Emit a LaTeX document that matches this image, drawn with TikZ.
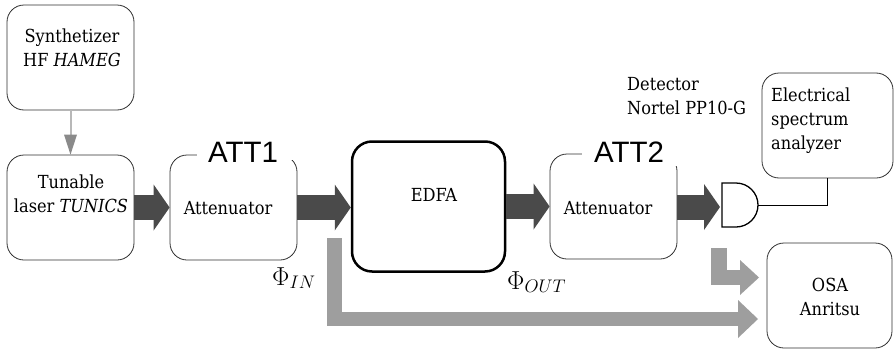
\RequirePackage{fix-cm}
\documentclass[tikz,border=0pt]{standalone}
\usepackage{fontspec}
\setmainfont{DejaVu Serif Condensed}
\newfontfamily\attfont{Liberation Sans}
\usetikzlibrary{arrows.meta,calc}
\definecolor{darkar}{HTML}{4A4A4A}
\definecolor{lightar}{HTML}{9E9E9E}
\definecolor{thinline}{HTML}{B8B8B8}
\definecolor{thinhead}{HTML}{8A8A8A}
\definecolor{boxline}{HTML}{303030}
\tikzset{
  box/.style={draw=boxline, line width=0.8pt, rounded corners=17pt, fill=white,
    minimum width=127pt, minimum height=105pt, inner sep=0pt},
  edfabox/.style={box, draw=black, line width=2.5pt, rounded corners=20pt,
    minimum width=153pt, minimum height=130pt},
  txt/.style={font=\fontsize{18}{24}\selectfont, align=center, inner sep=0pt},
  ltxt/.style={txt, align=left, anchor=west},
  attlbl/.style={font=\attfont\fontsize{29.5}{30}\selectfont, inner sep=0pt, anchor=base},
  philbl/.style={font=\fontsize{26}{28}\selectfont, inner sep=0pt, anchor=base west},
  bigarrow/.style={draw=darkar, line width=25pt,
    -{Triangle[length=16pt,width=46pt,line width=0pt,color=darkar]}},
  grayL/.style={draw=lightar, line join=miter},
  thinarrow/.style={draw=thinline, line width=2pt,
    -{Triangle[length=20pt,width=13pt,line width=0pt,color=thinhead]}},
  wire/.style={draw=black, line width=1pt},
  detshape/.style={draw=black, line width=1.3pt, fill=white},
}
\begin{document}
\begin{tikzpicture}[x=1pt,y=-1pt]
\useasboundingbox (0,0) rectangle (894,351);

% boxes
\node[box] (synth) at (70.5,57.5) {};
\node[box] (laser) at (70.5,207.5) {};
\node[box] (att1) at (233.5,207.5) {};
\node[edfabox] (edfa) at (428.5,206.5) {};
\node[box] (att2) at (613.5,206.5) {};
\node[box, minimum width=131pt] (esa) at (827.5,125.5) {};
\node[box, minimum width=125pt] (osa) at (829.5,295.5) {};

% covers for ATT labels
\fill[white] (197,128) rectangle (299,159.5);
\fill[white] (582,128) rectangle (679,166);
\node[attlbl] (att1lbl) at (243,162) {ATT1};
\node[attlbl] (att2lbl) at (629,162) {ATT2};

% texts
\node[txt] (synthT) at (72,48) {Synthetizer\\HF \textit{HAMEG}};
\node[txt] (laserT) at (71,194) {Tunable\\laser \textit{TUNICS}};
\node[txt] (att1T) at (228,208.5) {Attenuator};
\node[txt] (edfaT) at (434,195) {EDFA};
\node[txt] (att2T) at (608,208.5) {Attenuator};
\node[ltxt] (detT) at (627,96.5) {Detector\\Nortel PP10-G};
\node[ltxt] (esaT) at (771,121) {Electrical\\spectrum\\analyzer};
\node[txt] (osaT) at (830,296.5) {OSA\\Anritsu};
\node[philbl] (phiIn) at (272,285) {$\Phi_{IN}$};
\node[philbl] (phiOut) at (507,289) {$\Phi_{OUT}$};

% detector
\coordinate (detIn) at (720,207);
\coordinate (detR) at (758,205);
\draw[detshape] (722,183) -- (736,183) arc[start angle=-90, end angle=90, radius=22] -- (722,227) -- cycle;
\draw[wire] (detR) -| (esa.south);

% thin arrow
\draw[thinarrow] (synth.south) -- (laser.north);

% dark arrows
\draw[bigarrow] (laser.east) -- (att1.west);
\draw[bigarrow] (att1.east) -- (att1.east -| edfa.west);
\draw[bigarrow] (edfa.east |- att2.west) -- (att2.west);
\draw[bigarrow] (att2.east |- detIn) -- (detIn);

% gray L arrows
\coordinate (bigS) at (334.5,238);
\coordinate (bigE) at (758,319);
\draw[grayL, line width=14.5pt, -{Triangle[length=20pt,width=38pt,line width=0pt,color=lightar]}] (bigS) |- (bigE);
\coordinate (smS) at (719,248);
\coordinate (smE) at (759,277.5);
\draw[grayL, line width=15.5pt, -{Triangle[length=19pt,width=35pt,line width=0pt,color=lightar]}] (smS) |- (smE);
\end{tikzpicture}
\end{document}
